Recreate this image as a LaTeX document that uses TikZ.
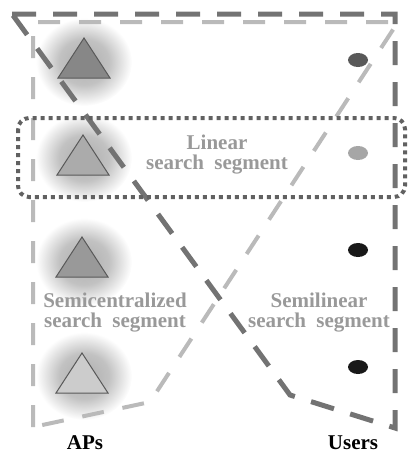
\documentclass[tikz,border=0pt]{standalone}
\usepackage{fontspec}
\setmainfont{Liberation Serif}

\pgfdeclareradialshading{apglow}{\pgfpointorigin}{color(0bp)=(black!32); color(13bp)=(black!24); color(25bp)=(white); color(50bp)=(white)}

\tikzset{
  darkseg/.style={draw=black!55, line width=5pt, dash pattern=on 24pt off 17pt},
  lightseg/.style={draw=black!27, line width=4pt, dash pattern=on 22pt off 19pt},
  lineseg/.style={draw=black!62, line width=4pt, dash pattern=on 4pt off 4pt, rounded corners=11pt},
  seglabel/.style={text=black!40, font=\fontsize{21}{20}\selectfont\bfseries, align=center},
  collabel/.style={font=\fontsize{21}{20}\selectfont\bfseries}
}

\begin{document}
\begin{tikzpicture}[x=1pt, y=-1pt]
  \useasboundingbox (0,0) rectangle (407,455);

  % Glow behind the APs
  \foreach \cy in {62,158,262,376}
    \shade[shading=apglow] (84,\cy) ellipse (48 and 44);

  % APs
  \foreach \cx/\by/\shadeval in {84/78/47, 83/175/33, 82/277/40, 82/393/20}
    \draw[black!65, line width=1pt, fill=black!\shadeval]
      (\cx-26,\by) -- (\cx,\by-40) -- (\cx+26,\by) -- cycle;

  % Semicentralized search segment
  \draw[lightseg] (33,427) -- (33,22) -- (398,22) -- (150,402) -- cycle;

  % Semilinear search segment
  \draw[darkseg] (12,14) -- (395,14) -- (395,428) -- (290,395) -- cycle;

  % Linear search segment
  \draw[lineseg] (18,118) rectangle (405,197);

  % Users
  \fill[black!65] (358,60) ellipse (10 and 7);
  \fill[black!35] (358,153) ellipse (10 and 7);
  \fill[black!90] (358,250) ellipse (10 and 7);
  \fill[black!90] (358,367) ellipse (10 and 7);

  % Labels
  \node[seglabel] (linear) at (217,155) {Linear\\search\hspace{5pt} segment};
  \node[seglabel] (semicent) at (115,313) {Semicentralized\\search\hspace{5pt} segment};
  \node[seglabel] (semilin) at (319,313) {Semilinear\\search\hspace{5pt} segment};
  \node[collabel] (aps) at (85,443) {APs};
  \node[collabel] (users) at (353,443) {Users};
\end{tikzpicture}
\end{document}
